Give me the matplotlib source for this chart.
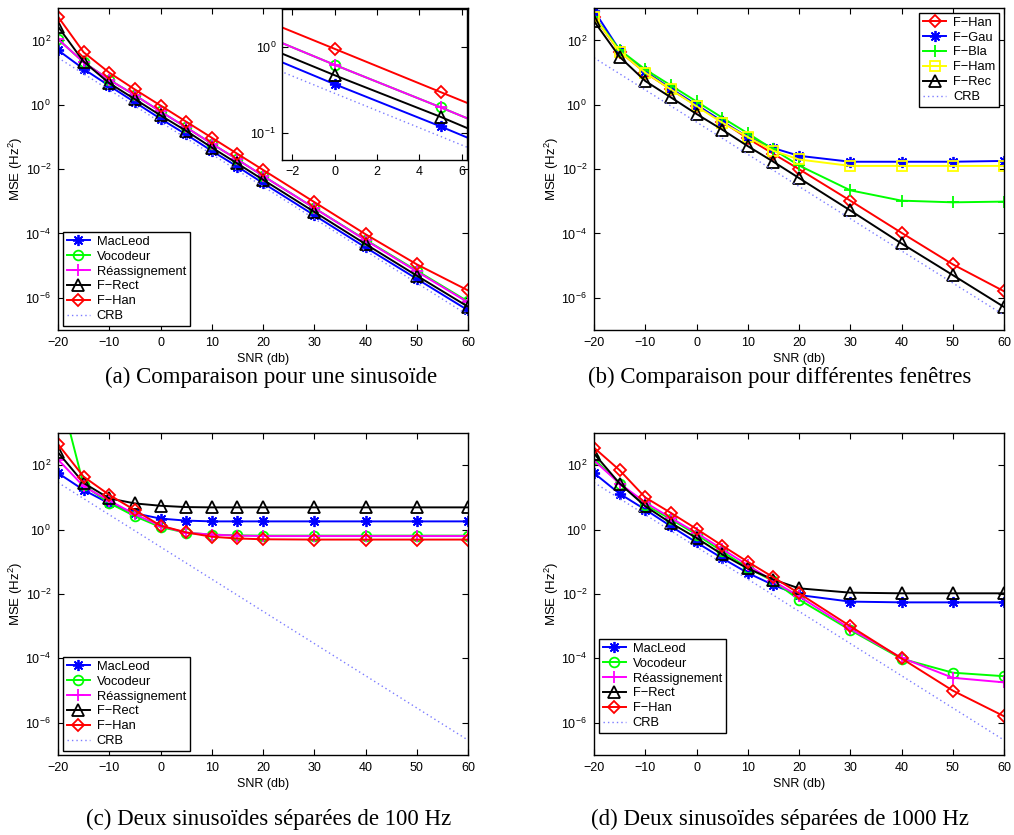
import numpy as np
import matplotlib
matplotlib.use('Agg')
import matplotlib.pyplot as plt

plt.rcParams['font.family'] = ['Liberation Sans', 'DejaVu Sans']
plt.rcParams['mathtext.fontset'] = 'custom'
plt.rcParams['mathtext.rm'] = 'Liberation Sans'
plt.rcParams['mathtext.it'] = 'Liberation Sans:italic'
plt.rcParams['font.size'] = 9

snr = [-20, -15, -10, -5, 0, 5, 10, 15, 20, 30, 40, 50, 60]
crb = [29, 9.2, 2.9, 0.92, 0.29, 0.092, 0.029, 9.2e-3, 2.9e-3, 2.9e-4, 2.9e-5, 2.9e-6, 2.9e-7]

# (a) one sinusoid
a_macleod = [50, 13, 3.9, 1.2, 0.37, 0.12, 0.037, 0.012, 3.7e-3, 3.7e-4, 3.7e-5, 3.9e-6, 4.1e-7]
a_vocodeur = [110, 21, 6.0, 2.0, 0.62, 0.2, 0.062, 0.02, 6.2e-3, 6.2e-4, 6.4e-5, 7e-6, 7.7e-7]
a_reass = [110, 21, 6.0, 2.0, 0.62, 0.2, 0.062, 0.02, 6.2e-3, 6.2e-4, 6.2e-5, 6.6e-6, 7.2e-7]
a_frect = [270, 22, 4.7, 1.5, 0.47, 0.155, 0.047, 0.015, 4.7e-3, 4.7e-4, 4.7e-5, 4.9e-6, 5.3e-7]
a_fhan = [550, 43, 10, 3.0, 0.95, 0.3, 0.095, 0.03, 9.5e-3, 9.5e-4, 9.5e-5, 1.1e-5, 1.7e-6]

# (b) windows
b_fhan = [550, 45, 10, 3.0, 0.95, 0.3, 0.09, 0.03, 0.01, 1.05e-3, 1.05e-4, 1.1e-5, 1.6e-6]
b_fgau = [850, 50, 11, 3.2, 1.0, 0.31, 0.1, 0.045, 0.026, 0.017, 0.017, 0.017, 0.018]
b_fbla = [550, 51, 12.6, 4.0, 1.27, 0.4, 0.13, 0.041, 0.013, 2.2e-3, 1.05e-3, 9.3e-4, 9.8e-4]
b_fham = [550, 45, 10, 3.0, 0.9, 0.28, 0.1, 0.037, 0.02, 0.0126, 0.0126, 0.0126, 0.0126]
b_frec = [400, 31, 5.5, 1.7, 0.52, 0.17, 0.052, 0.017, 5.3e-3, 5.2e-4, 4.9e-5, 5.1e-6, 5.2e-7]

# (c) two sinusoids, 100 Hz apart
c_macleod = [57, 17, 6.5, 3.2, 2.2, 1.9, 1.8, 1.8, 1.8, 1.8, 1.8, 1.8, 1.8]
c_vocodeur = [3e4, 24, 6.7, 2.6, 1.2, 0.8, 0.7, 0.66, 0.65, 0.65, 0.65, 0.65, 0.65]
c_reass = [150, 22, 8, 3.0, 1.3, 0.8, 0.7, 0.65, 0.63, 0.63, 0.63, 0.63, 0.63]
c_frect = [250, 28, 9.3, 6.5, 5.5, 5.0, 4.9, 4.9, 4.9, 4.9, 4.9, 4.9, 4.9]
c_fhan = [450, 44, 12, 4.0, 1.33, 0.82, 0.6, 0.53, 0.5, 0.49, 0.49, 0.49, 0.49]

# (d) two sinusoids, 1000 Hz apart
d_macleod = [57, 13, 4.2, 1.27, 0.4, 0.13, 0.045, 0.019, 9.3e-3, 5.8e-3, 5.5e-3, 5.5e-3, 5.5e-3]
d_vocodeur = [160, 27, 5.9, 2.1, 0.7, 0.21, 0.065, 0.025, 6.7e-3, 7.6e-4, 9.8e-5, 3.6e-5, 2.8e-5]
d_reass = [140, 27, 7, 2.3, 0.79, 0.25, 0.079, 0.025, 8.5e-3, 8.3e-4, 1.05e-4, 2.5e-5, 1.8e-5]
d_frect = [230, 27, 5.3, 1.6, 0.55, 0.17, 0.062, 0.028, 0.015, 0.011, 0.0105, 0.0105, 0.0105]
d_fhan = [350, 70, 10, 3.3, 1.05, 0.32, 0.1, 0.033, 0.0105, 1e-3, 1e-4, 1e-5, 1.6e-6]

labels_meth = ['MacLeod', 'Vocodeur', 'R\u00e9assignement', 'F\u2212Rect', 'F\u2212Han', 'CRB']
labels_win = ['F\u2212Han', 'F\u2212Gau', 'F\u2212Bla', 'F\u2212Ham', 'F\u2212Rec', 'CRB']
captions = ['(a) Comparaison pour une sinuso\u00efde',
            '(b) Comparaison pour diff\u00e9rentes fen\u00eatres',
            '(c) Deux sinuso\u00efdes s\u00e9par\u00e9es de 100 Hz',
            '(d) Deux sinuso\u00efdes s\u00e9par\u00e9es de 1000 Hz']

BLUE, GREEN, MAG, BLACK, RED, YEL = '#0000ff', '#00ff00', '#ff00ff', '#000000', '#ff0000', '#ffff00'
CRBC = '#7b7bff'
LW = 1.4
ASTER = (8, 2, 0)  # matlab-like asterisk

def curve(ax, y, color, marker, label, ms=7):
    ax.plot(snr, y, color=color, marker=marker, lw=LW, ms=ms, mfc='none',
            mec=color, mew=1.3, label=label)

def crb_line(ax):
    ax.plot(snr, crb, color=CRBC, lw=1.0, ls=(0, (1, 2.2)), label='CRB')

def methods(ax, m, v, r, fr, fh):
    curve(ax, m, BLUE, ASTER, labels_meth[0], ms=8)
    curve(ax, v, GREEN, 'o', labels_meth[1])
    curve(ax, r, MAG, '+', labels_meth[2], ms=9)
    curve(ax, fr, BLACK, '^', labels_meth[3], ms=8)
    curve(ax, fh, RED, 'D', labels_meth[4], ms=6.5)
    crb_line(ax)

def style(ax):
    ax.set_yscale('log')
    ax.set_xlim(-20, 60)
    ax.set_ylim(1e-7, 1e3)
    ax.set_xticks([-20, -10, 0, 10, 20, 30, 40, 50, 60])
    ax.set_yticks([1e-6, 1e-4, 1e-2, 1, 1e2])
    ax.minorticks_off()
    ax.tick_params(direction='in', top=True, right=True, length=4, width=0.8, pad=5)
    ax.set_xlabel('SNR (db)', labelpad=3)
    ax.set_ylabel('MSE (Hz$^2$)', fontsize=9.5)
    ax.yaxis.set_label_coords(-0.08, 0.5)
    for s in ax.spines.values():
        s.set_linewidth(1.0)

def legend(ax, loc, anchor):
    lg = ax.legend(loc=loc, bbox_to_anchor=anchor, borderaxespad=0, fancybox=False,
                   framealpha=1, edgecolor='black', labelspacing=0.22, handlelength=1.8,
                   handletextpad=0.5, borderpad=0.3, fontsize=9.3)
    lg.get_frame().set_linewidth(1.0)

W, H = 1014, 835
fig = plt.figure(figsize=(W / 100, H / 100), dpi=100)

def box(x0, x1, y0, y1):
    return [x0 / W, 1 - y1 / H, (x1 - x0) / W, (y1 - y0) / H]

ax_a = fig.add_axes(box(58, 468, 8.3, 330))
ax_b = fig.add_axes(box(594, 1004, 8.3, 330))
ax_c = fig.add_axes(box(58, 468, 433, 755))
ax_d = fig.add_axes(box(594, 1004, 433, 755))

# (a)
methods(ax_a, a_macleod, a_vocodeur, a_reass, a_frect, a_fhan)
style(ax_a)
legend(ax_a, 'lower left', (0.012, 0.012))

# inset zoom of (a)
ax_in = fig.add_axes(box(281.7, 467, 9, 160))
methods(ax_in, a_macleod, a_vocodeur, a_reass, a_frect, a_fhan)
ax_in.set_yscale('log')
ax_in.set_xlim(-2.5, 6.25)
ax_in.set_ylim(0.049, 2.75)
ax_in.set_xticks([-2, 0, 2, 4, 6])
ax_in.set_yticks([0.1, 1])
ax_in.minorticks_off()
ax_in.tick_params(direction='in', top=True, right=True, length=4, width=0.8, pad=4)
for s in ax_in.spines.values():
    s.set_linewidth(1.0)

# (b)
curve(ax_b, b_fhan, RED, 'D', labels_win[0], ms=6.5)
curve(ax_b, b_fgau, BLUE, ASTER, labels_win[1], ms=8)
curve(ax_b, b_fbla, GREEN, '+', labels_win[2], ms=9)
curve(ax_b, b_fham, YEL, 's', labels_win[3], ms=7)
curve(ax_b, b_frec, BLACK, '^', labels_win[4], ms=8)
crb_line(ax_b)
style(ax_b)
legend(ax_b, 'upper right', (0.988, 0.986))

# (c)
methods(ax_c, c_macleod, c_vocodeur, c_reass, c_frect, c_fhan)
style(ax_c)
legend(ax_c, 'lower left', (0.012, 0.012))

# (d)
methods(ax_d, d_macleod, d_vocodeur, d_reass, d_frect, d_fhan)
style(ax_d)
legend(ax_d, 'lower left', (0.012, 0.068))

# captions
cap_font = dict(family=['Liberation Serif', 'DejaVu Serif'], size=16.5, ha='center', va='center')
fig.text(271 / W, 1 - 377 / H, captions[0], **cap_font)
fig.text(780 / W, 1 - 377 / H, captions[1], **cap_font)
fig.text(269 / W, 1 - 819 / H, captions[2], **cap_font)
fig.text(780 / W, 1 - 819 / H, captions[3], **cap_font)

fig.savefig('out.png', dpi=100)
